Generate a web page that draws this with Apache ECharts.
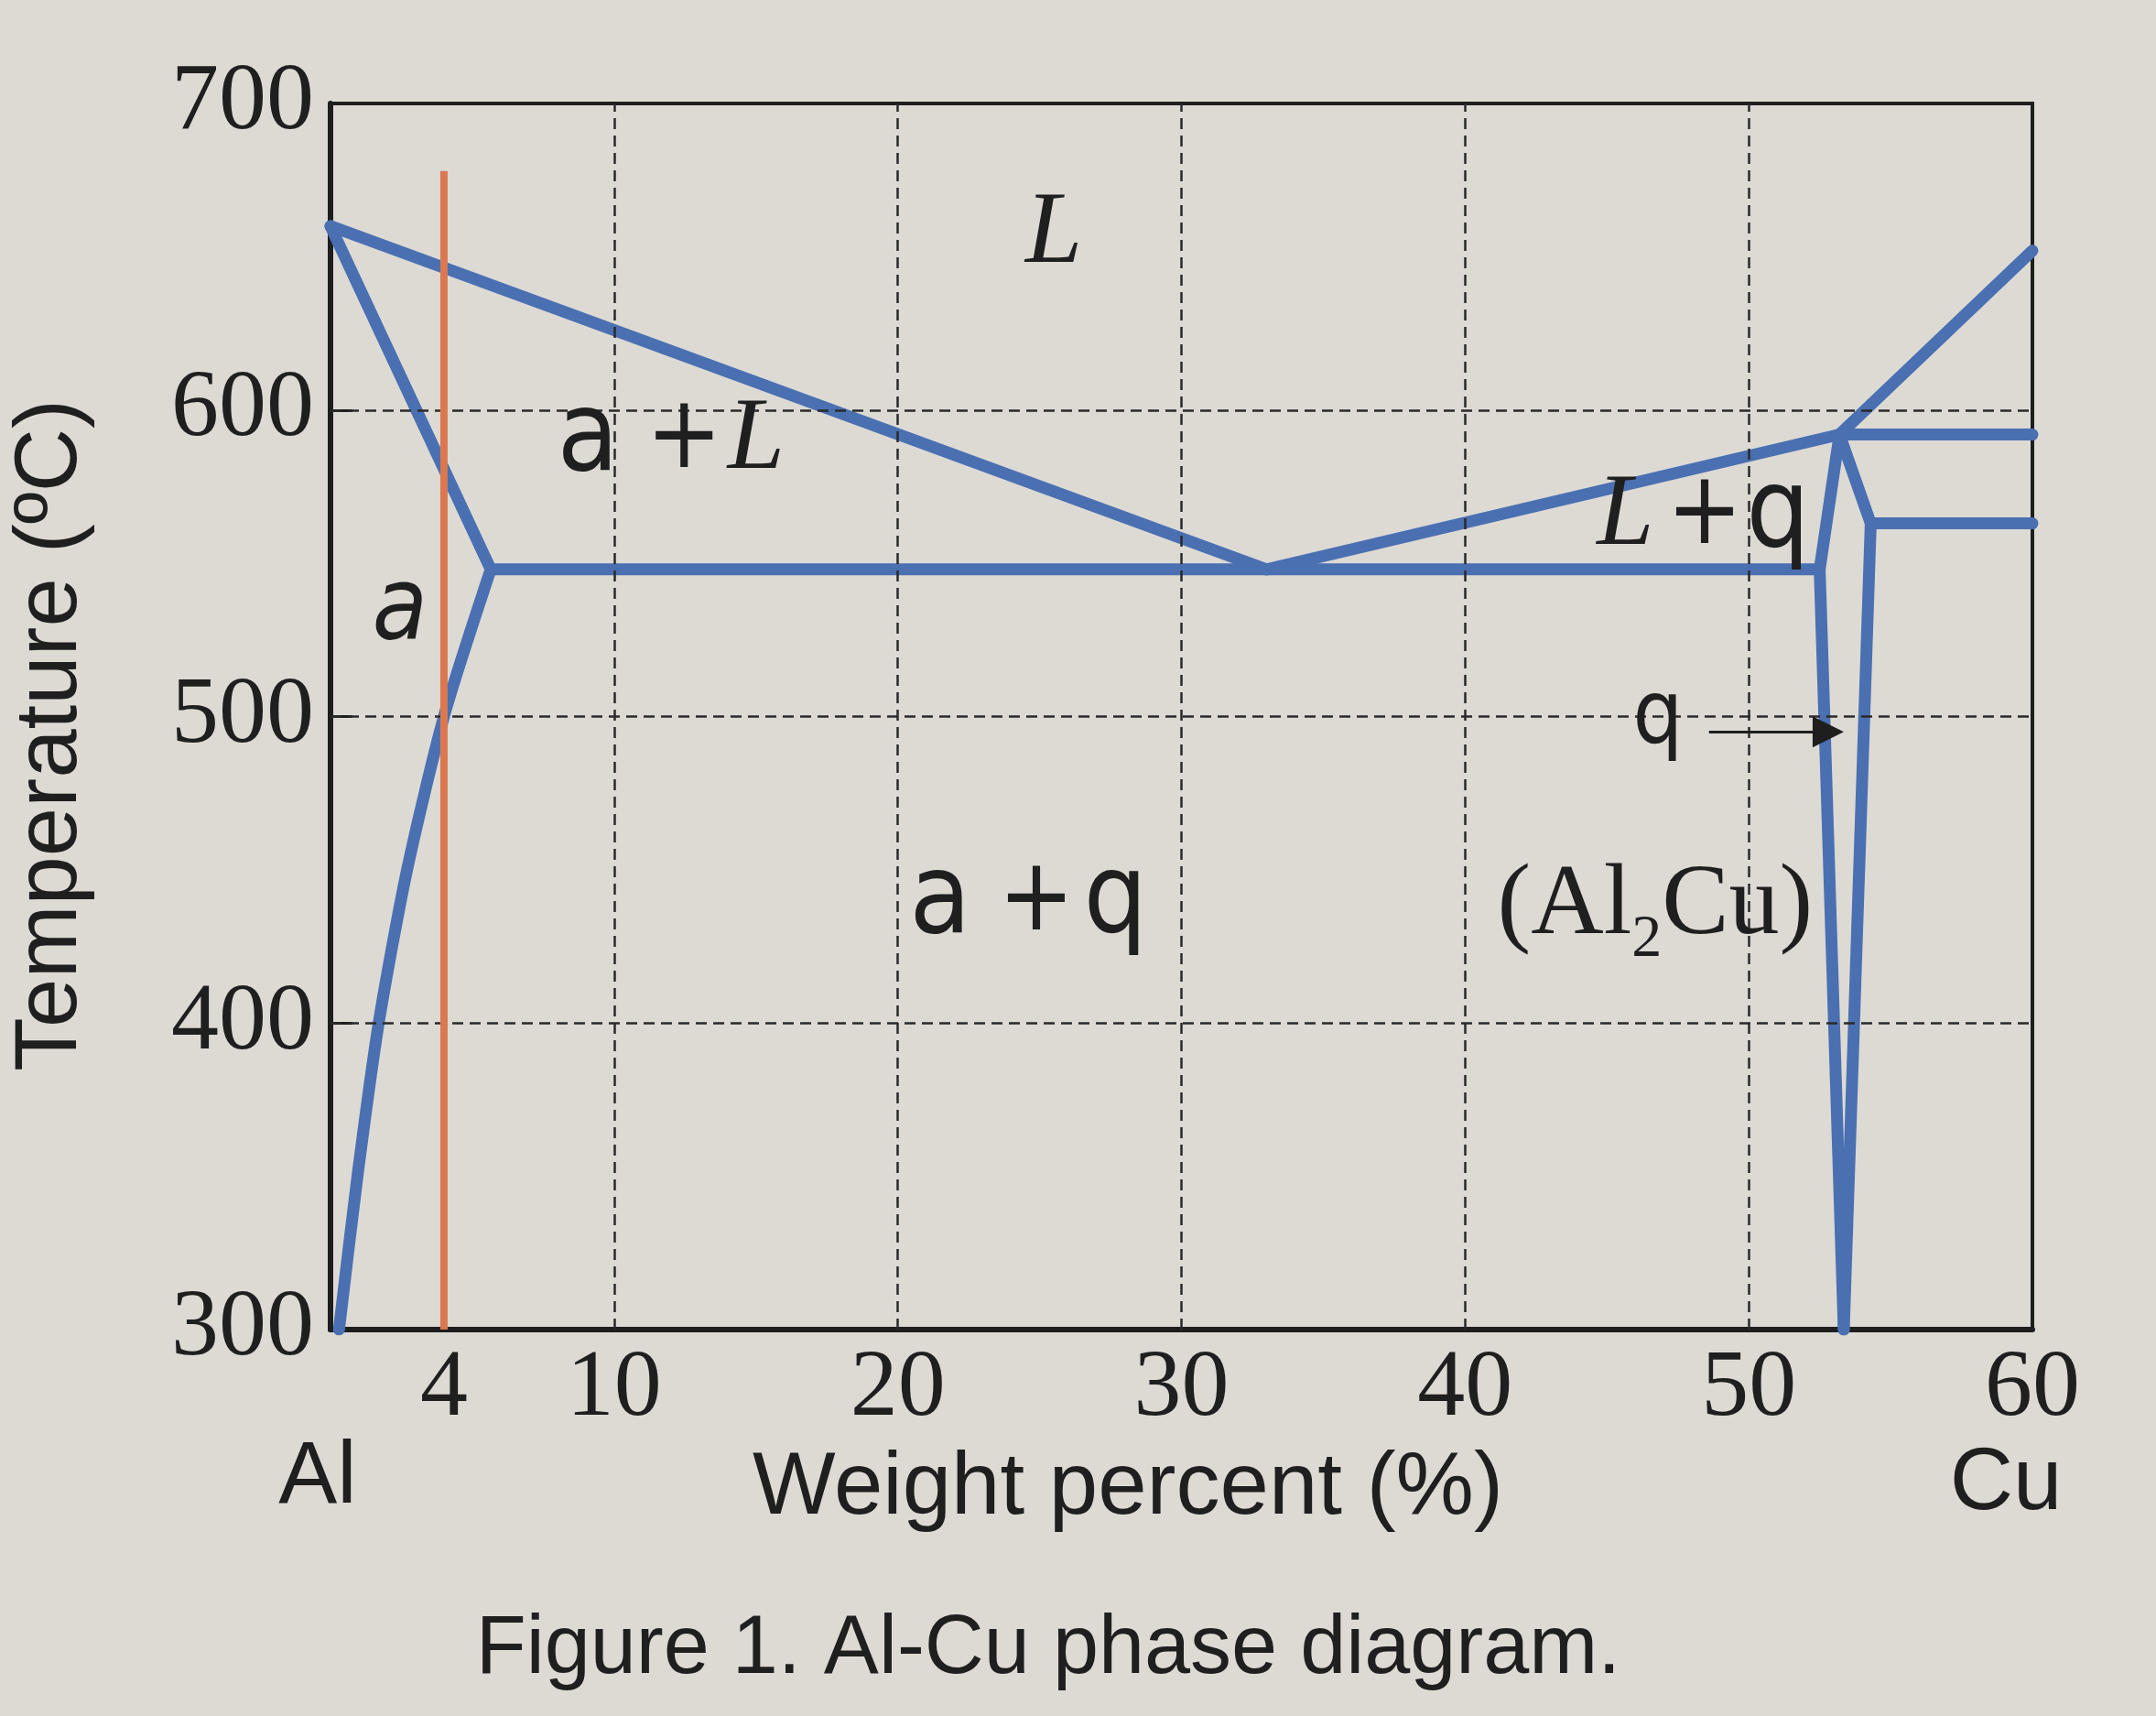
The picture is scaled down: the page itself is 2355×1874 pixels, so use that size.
<!DOCTYPE html>
<html><head><meta charset="utf-8">
<script src="https://cdn.jsdelivr.net/npm/echarts@6/dist/echarts.min.js"></script>
<style>html,body{margin:0;padding:0;background:#dddad4}#c{width:2355px;height:1874px}</style>
</head><body><div id="c"></div>
<script>
// ---- data (wt% Cu, temperature °C) ----
const xTickLabels = [4, 10, 20, 30, 40, 50, 60];
const yTickLabels = [300, 400, 500, 600, 700];
const xGridValues = [10, 20, 30, 40, 50];
const yGridValues = [400, 500, 600];
const liquidusLeft = [[0, 660], [33, 548]];
const solidus = [[0, 660], [5.65, 548]];
const solvus = [[5.65, 548], [4.0, 500], [2.7, 450], [1.7, 400], [0.95, 350], [0.3, 300]];
const eutecticLine = [[5.65, 548], [52.5, 548]];
const liquidusRight = [[33, 548], [53.2, 592], [60, 652]];
const thetaLeft = [[53.2, 592], [52.5, 548], [53.35, 300]];
const thetaRight = [[53.2, 592], [54.3, 563], [53.35, 300]];
const upperIsotherm = [[53.2, 592], [60, 592]];
const lowerIsotherm = [[54.3, 563], [60, 563]];
const alloyLine = [[4, 300], [4, 678]];
const thetaArrow = [[48.6, 495], [52.8, 495]];
const regionNames = ['{li|L}', '{s|a}{pa|+}{li|L}', '{si|a}', '{li|L}{pl|+}{s|q}', '{sq|q}', '{r|(Al}{sub|2}{r|Cu)}', '{s|a}{pq|+}{s|q}'];
const regionAt = [[25.5, 657], [12.0, 590], [2.45, 534], [48.4, 565], [46.8, 499], [46.7, 438], [24.6, 439]];

const BLUE = '#4a70b2', ORANGE = '#dc7850', INK = '#1f1f1f';
const SANS = "'Liberation Sans Narrow','DejaVu Sans Condensed','Liberation Sans'";
const SERIF = "'Liberation Serif'";

function boundary(name, data, extra) {
  return Object.assign({
    name, type: 'line', data, symbol: 'none', z: 4, silent: true,
    lineStyle: { color: BLUE, width: 13, cap: 'round', join: 'round' }
  }, extra || {});
}

const chart = echarts.init(document.getElementById('c'), null, { renderer: 'canvas' });
chart.setOption({
  backgroundColor: '#dddad4',
  animation: false,
  grid: { left: 361, right: 135, top: 113, bottom: 422, show: true, borderColor: '#1e1e1e', borderWidth: 4 },
  xAxis: {
    type: 'value', min: 0, max: 60,
    axisLine: { show: true, lineStyle: { color: '#1e1e1e', width: 6 } },
    axisTick: { show: false },
    splitLine: { show: false },
    axisLabel: { customValues: xTickLabels, fontFamily: SERIF, fontSize: 104, color: INK, margin: 14 }
  },
  yAxis: {
    type: 'value', min: 300, max: 700, interval: 100,
    axisLine: { show: true, lineStyle: { color: '#1e1e1e', width: 6 } },
    axisTick: { show: true, inside: true, length: 24, lineStyle: { color: '#1e1e1e', width: 3 } },
    splitLine: { show: false },
    axisLabel: { fontFamily: SERIF, fontSize: 104, color: INK, margin: 18,
      formatter: v => yTickLabels.indexOf(v) >= 0 ? String(v) : '' }
  },
  graphic: [
    { type: 'text', x: 57, y: 803, rotation: Math.PI / 2,
      style: { text: 'Temperature (ºC)', fontFamily: "'Liberation Sans'", fontSize: 96, fill: INK, align: 'center', verticalAlign: 'middle' } },
    { type: 'text', x: 1232, y: 1627,
      style: { text: 'Weight percent (%)', fontFamily: "'Liberation Sans'", fontSize: 96, fill: INK, align: 'center', verticalAlign: 'middle' } },
    { type: 'text', x: 347, y: 1615,
      style: { text: 'Al', fontFamily: "'Liberation Sans'", fontSize: 96, fill: INK, align: 'center', verticalAlign: 'middle' } },
    { type: 'text', x: 2191, y: 1622,
      style: { text: 'Cu', fontFamily: "'Liberation Sans'", fontSize: 96, fill: INK, align: 'center', verticalAlign: 'middle' } },
    { type: 'text', x: 1145, y: 1802,
      style: { text: 'Figure 1. Al-Cu phase diagram.', fontFamily: "'Liberation Sans'", fontSize: 90, fill: INK, align: 'center', verticalAlign: 'middle' } }
  ],
  series: [
    { name: 'grid', type: 'line', data: [], z: 1, silent: true,
      markLine: { silent: true, symbol: 'none', label: { show: false },
        lineStyle: { color: '#2a2a2a', width: 2.5, type: [12, 7] },
        data: xGridValues.map(v => ({ xAxis: v })).concat(yGridValues.map(v => ({ yAxis: v }))) } },
    boundary('liquidusLeft', liquidusLeft),
    boundary('solidus', solidus),
    boundary('solvus', solvus, { smooth: 0.25 }),
    boundary('eutectic', eutecticLine),
    boundary('liquidusRight', liquidusRight),
    boundary('thetaLeft', thetaLeft),
    boundary('thetaRight', thetaRight),
    boundary('upperIsotherm', upperIsotherm),
    boundary('lowerIsotherm', lowerIsotherm),
    { name: 'alloy', type: 'line', data: alloyLine, symbol: 'none', z: 6, silent: true,
      lineStyle: { color: ORANGE, width: 8 } },
    { name: 'arrow', type: 'line', data: [], z: 7, silent: true,
      markLine: { silent: true, symbol: ['none', 'triangle'], symbolSize: 34, label: { show: false },
        lineStyle: { color: '#1e1e1e', width: 3, type: 'solid' },
        data: [[{ coord: thetaArrow[0] }, { coord: thetaArrow[1] }]] } },
    { name: 'labels', type: 'scatter', symbolSize: 0, z: 8, silent: true,
      itemStyle: { opacity: 1 },
      data: regionNames.map((n, i) => ({ name: n, value: regionAt[i] })),
      label: { show: true, position: 'inside', formatter: p => p.name, color: INK, opacity: 1,
        rich: {
          li: { fontFamily: SERIF, fontStyle: 'italic', fontSize: 112, color: INK, lineHeight: 130 },
          s: { fontFamily: SANS, fontSize: 122, color: INK, lineHeight: 130 },
          si: { fontFamily: SANS, fontStyle: 'italic', fontSize: 110, color: INK, lineHeight: 130 },
          sq: { fontFamily: SANS, fontSize: 96, color: INK, lineHeight: 110 },
          pa: { fontFamily: SANS, fontSize: 110, color: INK, lineHeight: 130, padding: [0, 6, 0, 30] },
          pq: { fontFamily: SANS, fontSize: 110, color: INK, lineHeight: 130, padding: [0, 10, 0, 30] },
          pl: { fontFamily: SANS, fontSize: 110, color: INK, lineHeight: 130, padding: [0, 4, 0, 14] },
          r: { fontFamily: SERIF, fontSize: 110, color: INK, lineHeight: 140 },
          sub: { fontFamily: SERIF, fontSize: 66, color: INK, lineHeight: 66, verticalAlign: 'bottom' }
        } } }
  ]
});
</script></body></html>
